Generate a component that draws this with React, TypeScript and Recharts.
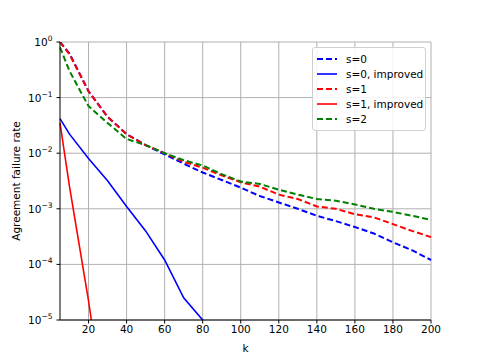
import { LineChart, Line, XAxis, YAxis, CartesianGrid } from "recharts";

const kValues = [5, 10, 20, 30, 40, 50, 60, 70, 80, 90, 100, 110, 120, 130, 140, 150, 160, 170, 180, 190, 200];

const s0 = [1.0, 0.62, 0.13, 0.045, 0.022, 0.014, 0.0095, 0.0065, 0.0045, 0.0033, 0.0024, 0.0017, 0.0013, 0.001, 0.00075, 0.0006, 0.00047, 0.00036, 0.00025, 0.00018, 0.00012];
const s0Improved = [0.042, 0.022, 0.008, 0.0032, 0.0011, 0.0004, 0.00012, 0.000025, 0.00001, 0.000003, null, null, null, null, null, null, null, null, null, null, null];
const s1 = [1.0, 0.6, 0.13, 0.045, 0.022, 0.014, 0.01, 0.007, 0.0055, 0.004, 0.003, 0.0025, 0.0018, 0.0015, 0.0011, 0.001, 0.0008, 0.0007, 0.00053, 0.0004, 0.00031];
const s1Improved = [0.035, 0.0025, 0.000022, 0.0000001, null, null, null, null, null, null, null, null, null, null, null, null, null, null, null, null, null];
const s2 = [0.8, 0.3, 0.07, 0.035, 0.018, 0.014, 0.01, 0.0075, 0.006, 0.0042, 0.0031, 0.0028, 0.0022, 0.0018, 0.0015, 0.0014, 0.0012, 0.001, 0.00088, 0.00075, 0.00063];

const xTicks = [20, 40, 60, 80, 100, 120, 140, 160, 180, 200];
const yTicks = [1, 0.1, 0.01, 0.001, 0.0001, 0.00001];
const yExponents = ["0", "−1", "−2", "−3", "−4", "−5"];

const data = kValues.map((k, i) => ({
  k,
  s0: s0[i],
  s0i: s0Improved[i],
  s1: s1[i],
  s1i: s1Improved[i],
  s2: s2[i],
}));

// minor ticks 2..9 x 10^n
const minorTicks: number[] = [];
for (let e = -5; e < 0; e++) {
  for (let m = 2; m <= 9; m++) minorTicks.push(m * Math.pow(10, e));
}

const series = [
  { key: "s0", name: "s=0", color: "#0000ff", dashed: true },
  { key: "s0i", name: "s=0, improved", color: "#0000ff", dashed: false },
  { key: "s1", name: "s=1", color: "#ff0000", dashed: true },
  { key: "s1i", name: "s=1, improved", color: "#ff0000", dashed: false },
  { key: "s2", name: "s=2", color: "#008000", dashed: true },
];

const font = "'DejaVu Sans', sans-serif";

const YTick = ({ x, y, payload, index }: any) => {
  const i = yTicks.indexOf(payload.value);
  return (
    <text x={x - 2} y={y} dy={4} textAnchor="end" fontSize={10.5} fill="#000" fontFamily={font}>
      10
      <tspan dy={-5} fontSize={7.5}>{yExponents[i >= 0 ? i : index]}</tspan>
    </text>
  );
};

const LegendBox = () => (
  <div
    style={{
      position: "absolute",
      left: 312,
      top: 47,
      width: 114,
      boxSizing: "border-box",
      background: "rgba(255,255,255,0.85)",
      border: "1px solid #d0d0d0",
      borderRadius: 3,
      padding: "3px 0 3px 0",
      fontFamily: font,
      fontSize: 10.5,
      whiteSpace: "nowrap",
    }}
  >
    {series.map((s) => (
      <div key={s.key} style={{ display: "flex", alignItems: "center", height: 15.2 }}>
        <svg width={30} height={10} style={{ marginLeft: 3 }}>
          <line
            x1={1}
            x2={21}
            y1={5}
            y2={5}
            stroke={s.color}
            strokeWidth={s.dashed ? 2 : 1.6}
            strokeDasharray={s.dashed ? "6 3" : undefined}
          />
        </svg>
        <span>{s.name}</span>
      </div>
    ))}
  </div>
);

export default function App() {
  return (
    <div style={{ position: "absolute", left: 0, top: 0, width: 479, height: 359, background: "#fff" }}>
      <LineChart width={479} height={359} data={data} margin={{ top: 42, right: 48, left: 0, bottom: 0 }}>
        <CartesianGrid stroke="#b0b0b0" strokeWidth={1} horizontalValues={yTicks} verticalValues={xTicks} />
        <XAxis
          dataKey="k"
          type="number"
          domain={[5, 200]}
          ticks={xTicks}
          height={39}
          stroke="#000"
          tickSize={3.5}
          tick={{ fontSize: 10.5, fill: "#000", fontFamily: font }}
          label={{ value: "k", position: "insideBottom", offset: 7, fontSize: 10.5, fill: "#000", fontFamily: font }}
        />
        <XAxis
          xAxisId="top"
          dataKey="k"
          type="number"
          domain={[5, 200]}
          orientation="top"
          height={0}
          tick={false}
          tickLine={false}
          axisLine={{ stroke: "#000" }}
        />
        <YAxis
          scale="log"
          type="number"
          domain={[0.00001, 1]}
          allowDataOverflow
          ticks={yTicks}
          width={60}
          stroke="#000"
          tickSize={3.5}
          tick={<YTick />}
          label={{
            value: "Agreement failure rate",
            angle: -90,
            position: "insideLeft",
            offset: 16,
            style: { textAnchor: "middle", fontSize: 10.5, fill: "#000", fontFamily: font },
          }}
        />
        <YAxis
          yAxisId="minor"
          scale="log"
          type="number"
          domain={[0.00001, 1]}
          allowDataOverflow
          ticks={minorTicks}
          width={0}
          orientation="left"
          axisLine={false}
          tickSize={2}
          tickLine={{ stroke: "#000" }}
          tick={() => <g />}
        />
        <YAxis
          yAxisId="right"
          orientation="right"
          width={0}
          tick={false}
          tickLine={false}
          axisLine={{ stroke: "#000" }}
        />
        {series.map((s) => (
          <Line
            key={s.key}
            dataKey={s.key}
            name={s.name}
            type="linear"
            stroke={s.color}
            strokeWidth={s.dashed ? 2 : 1.6}
            strokeDasharray={s.dashed ? "6 3" : undefined}
            dot={false}
            activeDot={false}
            isAnimationActive={false}
          />
        ))}
      </LineChart>
      <LegendBox />
    </div>
  );
}
